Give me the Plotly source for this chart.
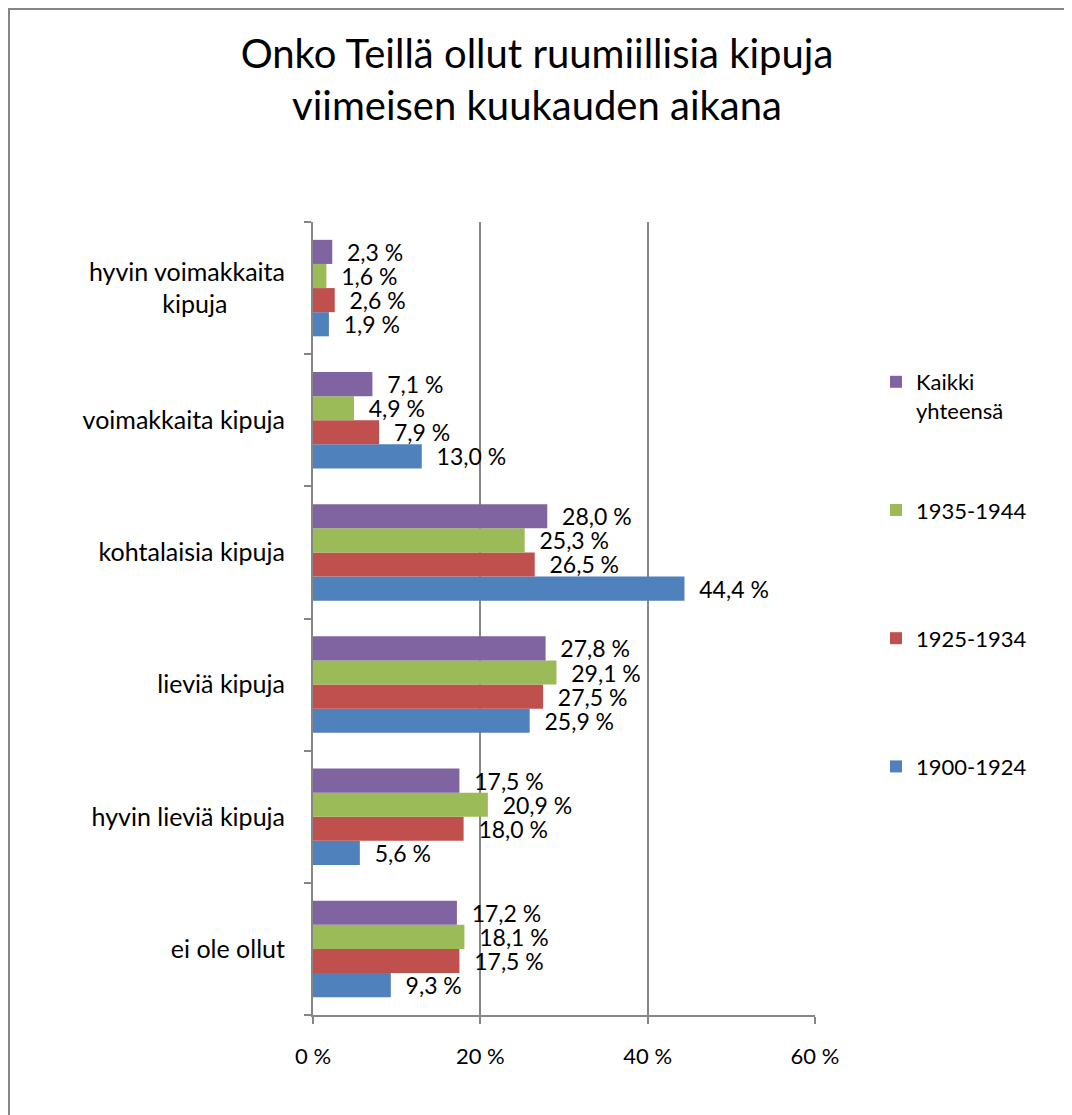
import plotly.graph_objects as go

# categories from bottom to top (plotly draws first category at bottom)
categories = ['ei ole ollut', 'hyvin lieviä kipuja', 'lieviä kipuja',
              'kohtalaisia kipuja', 'voimakkaita kipuja', 'hyvin voimakkaita kipuja']
tick_labels = ['ei ole ollut', 'hyvin lieviä kipuja', 'lieviä kipuja',
               'kohtalaisia kipuja', 'voimakkaita kipuja',
               'hyvin voimakkaita<br>kipuja' + '\u00a0' * 9]

series_names = ['1900-1924', '1925-1934', '1935-1944', 'Kaikki yhteensä']
legend_labels = ['1900-1924<br> ', '1925-1934<br> ', '1935-1944<br> ', 'Kaikki<br>yhteensä']
v_1900_1924 = [9.3, 5.6, 25.9, 44.4, 13.0, 1.9]
v_1925_1934 = [17.5, 18.0, 27.5, 26.5, 7.9, 2.6]
v_1935_1944 = [18.1, 20.9, 29.1, 25.3, 4.9, 1.6]
v_kaikki = [17.2, 17.5, 27.8, 28.0, 7.1, 2.3]
series_values = [v_1900_1924, v_1925_1934, v_1935_1944, v_kaikki]
colors = ['#4F81BD', '#C0504D', '#9BBB59', '#8064A2']

x_ticks = [0, 20, 40, 60]

FONT = 'Lato'
W, H = 1072, 1115
OFF = 8  # page body margin
L, R, T, B = 313 - OFF, 815 - OFF, 222 - OFF, 1015 - OFF


def px_x(p):
    return (p - OFF - L) / (R - L)


def px_y(p):
    return (B - (p - OFF)) / (B - T)


fig = go.Figure()
for i, (name, lab, vals, col) in enumerate(zip(series_names, legend_labels, series_values, colors)):
    fig.add_trace(go.Bar(
        y=categories,
        x=vals,
        orientation='h',
        name=lab,
        legendgroup=name,
        legendrank=len(series_names) - i,
        marker=dict(color=col, line=dict(width=0)),
        text=['\u00a0\u00a0' + f'{v:.1f} %'.replace('.', ',') for v in vals],
        textposition='outside',
        constraintext='none',
        textfont=dict(family=FONT, size=23, color='#000000'),
        cliponaxis=False,
    ))

fig.update_layout(
    width=W, height=H,
    margin=dict(l=L, r=W - R, t=T, b=H - B, pad=0),
    paper_bgcolor='white',
    plot_bgcolor='white',
    barmode='group',
    bargap=0.27,
    bargroupgap=0,
    font=dict(family=FONT, size=22, color='#000000'),
    title=dict(
        text='Onko Teillä ollut ruumiillisia kipuja<br>viimeisen kuukauden aikana',
        x=(537 - OFF) / W, xref='container', xanchor='center',
        y=1 - 60 / H, yanchor='top',
        font=dict(family=FONT, size=40, color='#000000'),
    ),
    legend=dict(
        x=px_x(876), xanchor='left',
        y=px_y(361), yanchor='top',
        traceorder='grouped',
        tracegroupgap=68,
        valign='top',
        font=dict(family=FONT, size=22, color='#000000'),
        itemwidth=30,
        bgcolor='rgba(0,0,0,0)',
    ),
    showlegend=True,
    shapes=[dict(
        type='rect', xref='paper', yref='paper',
        x0=px_x(9), x1=px_x(1068), y0=px_y(1140), y1=px_y(9),
        line=dict(color='#868686', width=2), fillcolor='rgba(0,0,0,0)',
        layer='below',
    )],
)

fig.update_xaxes(
    range=[0, 60],
    tickvals=x_ticks,
    ticktext=[f'{t} %' for t in x_ticks],
    showgrid=True, gridcolor='#868686', gridwidth=1.5,
    showline=True, linecolor='#868686', linewidth=2,
    ticks='outside', ticklen=7, tickcolor='#868686', tickwidth=2,
    ticklabelstandoff=14,
    zeroline=False,
    tickfont=dict(family=FONT, size=22),
)
fig.update_yaxes(
    categoryorder='array', categoryarray=categories,
    tickvals=categories, ticktext=tick_labels,
    showline=True, linecolor='#868686', linewidth=2,
    ticks='outside', ticklen=7, tickcolor='#868686', tickwidth=2,
    tickson='boundaries',
    ticklabelstandoff=21,
    showgrid=False,
    tickfont=dict(family=FONT, size=25),
)

fig.write_html('out.html')
